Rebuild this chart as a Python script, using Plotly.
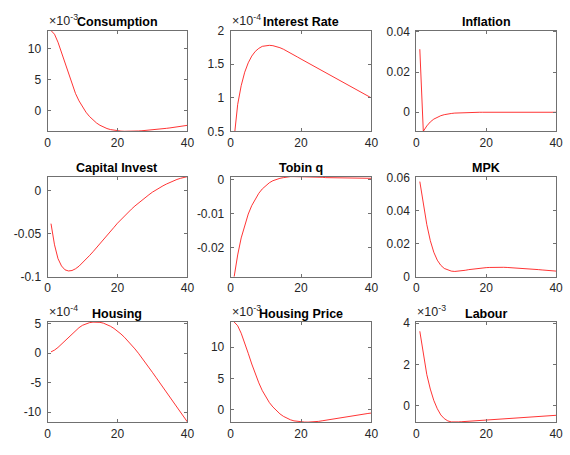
import plotly.graph_objects as go

W, H = 570, 455

periods = list(range(1, 41))

# Impulse responses; some series are shown in units of 10^k (see exponents)
consumption_e3 = [13.0, 12.4, 11.1, 9.4, 7.6, 5.8, 4.15, 2.75, 1.55, 0.55,
                  -0.3, -1.0, -1.58, -2.05, -2.43, -2.73, -2.96, -3.13, -3.25, -3.33,
                  -3.38, -3.41, -3.42, -3.41, -3.39, -3.36, -3.32, -3.28, -3.23, -3.18,
                  -3.12, -3.06, -3.0, -2.93, -2.86, -2.78, -2.70, -2.62, -2.53, -2.44]
interest_rate_e4 = [0.40, 0.90, 1.18, 1.38, 1.52, 1.62, 1.69, 1.735, 1.765, 1.778,
                    1.78, 1.775, 1.763, 1.745, 1.722, 1.696, 1.667, 1.637, 1.606, 1.576,
                    1.547, 1.518, 1.489, 1.46, 1.431, 1.402, 1.373, 1.344, 1.315, 1.287,
                    1.258, 1.229, 1.2, 1.171, 1.142, 1.113, 1.084, 1.055, 1.026, 0.997]
inflation = [0.0314, -0.0095, -0.0068, -0.0048, -0.0034, -0.0024, -0.0017, -0.0012, -0.0008, -0.0006,
             -0.0004, -0.0003, -0.0002, -0.00013, -0.00008, -0.00005, -0.00002, 0.0, 0.00001, 0.00002,
             0.00002, 0.00002, 0.00002, 0.00002, 0.00002, 0.00002, 0.00002, 0.00002, 0.00002, 0.00002,
             0.00001, 0.00001, 0.00001, 0.00001, 0.00001, 0.00001, 0.00001, 0.00001, 0.00001, 0.00001]
capital_invest = [-0.0385, -0.063, -0.079, -0.0875, -0.0920, -0.0933, -0.0928, -0.0908, -0.0878, -0.0840,
                  -0.0798, -0.0755, -0.0711, -0.0666, -0.0620, -0.0573, -0.0525, -0.0477, -0.0428, -0.0380,
                  -0.0337, -0.0295, -0.0255, -0.0217, -0.0180, -0.0145, -0.0112, -0.0080, -0.0050, -0.0020,
                  0.0006, 0.0030, 0.0053, 0.0074, 0.0094, 0.0112, 0.0127, 0.0140, 0.0151, 0.0160]
tobin_q = [-0.0286, -0.0222, -0.0172, -0.0133, -0.0102, -0.0077, -0.0057, -0.0041, -0.0028, -0.0018,
           -0.0010, -0.0004, 0.0000, 0.0003, 0.0005, 0.0007, 0.0008, 0.0008, 0.0008, 0.0008,
           0.0007, 0.0007, 0.0007, 0.0006, 0.0006, 0.0006, 0.0005, 0.0005, 0.0005, 0.0005,
           0.0004, 0.0004, 0.0004, 0.0004, 0.0004, 0.0003, 0.0003, 0.0003, 0.0003, 0.0003]
mpk = [0.0575, 0.0440, 0.0315, 0.0218, 0.0148, 0.0100, 0.0069, 0.0050, 0.0040, 0.0034,
       0.0032, 0.0033, 0.0035, 0.0039, 0.0043, 0.0046, 0.0049, 0.0052, 0.0054, 0.0055,
       0.0056, 0.0057, 0.0057, 0.0057, 0.0057, 0.0056, 0.0055, 0.0054, 0.0053, 0.0051,
       0.0050, 0.0048, 0.0046, 0.0045, 0.0043, 0.0041, 0.0039, 0.0038, 0.0036, 0.0034]
housing_e4 = [0.2, 0.5, 0.95, 1.5, 2.1, 2.7, 3.3, 3.85, 4.3, 4.7,
              4.98, 5.15, 5.24, 5.26, 5.2, 5.06, 4.84, 4.54, 4.17, 3.73,
              3.23, 2.67, 2.06, 1.4, 0.7, -0.04, -0.81, -1.61, -2.43, -3.27,
              -4.11, -4.95, -5.79, -6.63, -7.47, -8.31, -9.15, -9.99, -10.83, -11.67]
housing_price_e3 = [14.0, 13.4, 12.2, 10.7, 9.0, 7.3, 5.7, 4.3, 3.05, 2.0,
                    1.15, 0.45, -0.15, -0.65, -1.05, -1.38, -1.6, -1.77, -1.87, -1.93,
                    -1.96, -1.97, -1.96, -1.92, -1.85, -1.76, -1.66, -1.56, -1.46, -1.36,
                    -1.26, -1.17, -1.08, -0.99, -0.91, -0.83, -0.75, -0.67, -0.59, -0.52]
labour_e3 = [3.6, 2.45, 1.5, 0.8, 0.25, -0.15, -0.45, -0.63, -0.74, -0.79,
             -0.8, -0.79, -0.78, -0.77, -0.75, -0.74, -0.72, -0.71, -0.70, -0.69,
             -0.68, -0.67, -0.66, -0.65, -0.64, -0.63, -0.62, -0.61, -0.60, -0.59,
             -0.58, -0.57, -0.56, -0.55, -0.54, -0.53, -0.51, -0.50, -0.485, -0.47]

titles = ["Consumption", "Interest Rate", "Inflation",
          "Capital Invest", "Tobin q", "MPK",
          "Housing", "Housing Price", "Labour"]
series = [consumption_e3, interest_rate_e4, inflation,
          capital_invest, tobin_q, mpk,
          housing_e4, housing_price_e3, labour_e3]
exponents = ["-3", "-4", None, None, None, None, "-4", "-3", "-3"]
y_ranges = [[-3.42, 13.0], [0.5, 2.0], [-0.0095, 0.0407],
            [-0.1, 0.016], [-0.0286, 0.0008], [0, 0.0605],
            [-11.7, 5.26], [-1.97, 14.0], [-0.8, 4.05]]
y_ticks = [["0", "5", "10"], ["0.5", "1", "1.5", "2"], ["0", "0.02", "0.04"],
           ["-0.1", "-0.05", "0"], ["-0.02", "-0.01", "0"], ["0", "0.02", "0.04", "0.06"],
           ["-10", "-5", "0", "5"], ["0", "5", "10"], ["0", "2", "4"]]
x_ticks = ["0", "20", "40"]

# panel frames in pixels: (left, right), (top, bottom)
col_px = [(45.3, 187.7), (231.7, 375.0), (420.7, 563.0)]
row_px = [(24.3, 128.3), (175.0, 278.3), (325.0, 428.3)]

AXIS_COLOR = "#707070"
TEXT_COLOR = "#262626"
FONT = "Liberation Sans, Arial, Helvetica, sans-serif"

fig = go.Figure()
annotations = []
for i, (title, ys) in enumerate(zip(titles, series)):
    r, c = divmod(i, 3)
    (x0, x1), (y0, y1) = col_px[c], row_px[r]
    sfx = "" if i == 0 else str(i + 1)
    fig.add_trace(go.Scatter(
        x=periods, y=ys, mode="lines",
        line=dict(color="#ff0000", width=0.8),
        xaxis="x" + sfx, yaxis="y" + sfx, showlegend=False, hoverinfo="skip",
    ))
    common = dict(
        showline=True, linecolor=AXIS_COLOR, linewidth=1, mirror="ticks",
        ticks="inside", ticklen=3, tickcolor=AXIS_COLOR, tickwidth=1,
        showgrid=False, zeroline=False,
        tickfont=dict(family=FONT, size=12, color=TEXT_COLOR),
    )
    fig.update_layout(**{
        "xaxis" + sfx: dict(
            domain=[x0 / W, x1 / W], range=[0, 40], anchor="y" + sfx,
            tickvals=[float(t) for t in x_ticks], ticktext=x_ticks, **common),
        "yaxis" + sfx: dict(
            domain=[1 - y1 / H, 1 - y0 / H], range=y_ranges[i], anchor="x" + sfx,
            tickvals=[float(t) for t in y_ticks[i]], ticktext=y_ticks[i],
            ticklabelstandoff=3, **common),
    })
    if exponents[i]:
        annotations.append(dict(
            text="×10<sup>" + exponents[i] + "</sup>", showarrow=False,
            xref="paper", yref="paper", x=(x0 - 1) / W, y=1 - (y0 - 1) / H,
            xanchor="left", yanchor="bottom",
            font=dict(family=FONT, size=12.5, color=TEXT_COLOR),
        ))
    annotations.append(dict(
        text="<b>" + title + "</b>", showarrow=False,
        xref="paper", yref="paper", x=(x0 + x1) / 2 / W, y=1 - (y0 - 8.7) / H,
        xanchor="center", yanchor="middle",
        font=dict(family=FONT, size=12.5, color="#000000"),
    ))

fig.update_layout(
    width=W, height=H, margin=dict(l=0, r=0, t=0, b=0),
    paper_bgcolor="white", plot_bgcolor="white",
    annotations=annotations,
)

fig.write_html("out.html")
